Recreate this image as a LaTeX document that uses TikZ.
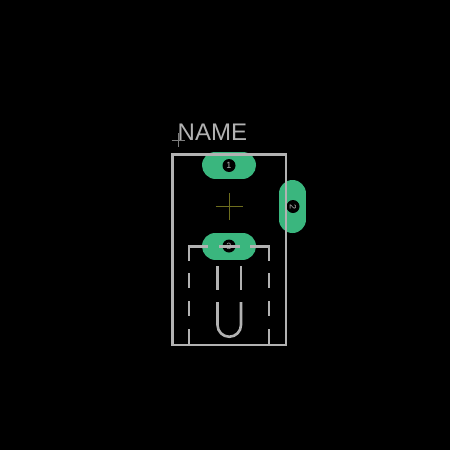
\documentclass[tikz,border=0pt]{standalone}
\usepackage{fontspec}
\setmainfont{Liberation Sans}
\definecolor{padg}{RGB}{58,182,126}
\definecolor{silk}{RGB}{178,178,178}
\definecolor{fab}{RGB}{110,110,30}
\tikzset{
  silkline/.style={draw=silk,line width=2.6pt,line cap=butt},
  padshape/.style={draw=padg,line cap=round,line width=27pt},
  holeshape/.style={circle,fill=black,minimum size=13pt,inner sep=0pt,text=silk,font=\fontsize{9}{9}\selectfont},
}
\begin{document}
\begin{tikzpicture}[x=1pt,y=-1pt]
\useasboundingbox (0,0) rectangle (450,450);
\fill[black] (0,0) rectangle (450,450);
% pads
\draw[padshape] (215.5,165) -- (242.5,165);
\draw[padshape] (292.5,193.5) -- (292.5,219.5);
\draw[padshape] (215.5,246) -- (242.5,246);
% holes
\node[holeshape] (h1) at (229,165.5) {1};
\node[holeshape,rotate=-90] (h2) at (293,206.5) {2};
\node[holeshape] (h3) at (229,246) {3};
% outline
\draw[silkline,line join=miter] (172.5,154.5) rectangle (286,345);
\draw[silkline] (189,345) -- (189,329);
\draw[silkline] (189,316) -- (189,301);
\draw[silkline] (189,288) -- (189,273);
\draw[silkline] (189,261) -- (189,246.5) -- (208,246.5);
\draw[silkline] (269,345) -- (269,329);
\draw[silkline] (269,316) -- (269,301);
\draw[silkline] (269,288) -- (269,273);
\draw[silkline] (269,261) -- (269,246.5) -- (250,246.5);
\draw[silkline] (219,246.5) -- (240,246.5);
\draw[silkline] (217.5,266) -- (217.5,290);
\draw[silkline] (241,266) -- (241,290);
\draw[silkline] (217.5,302) -- (217.5,325) arc[start angle=180,end angle=360,radius=11.75pt] -- (241,302);
% crosses
\draw[fab,line width=.8pt] (215.5,206.5) -- (243,206.5) (229,193) -- (229,220);
\draw[silk!70!black,line width=.8pt] (171.5,140) -- (185,140) (178,133) -- (178,147);
\node[text=silk,font=\fontsize{24}{24}\selectfont,inner sep=0pt,anchor=base west] (name) at (177.5,140) {NAME};
\end{tikzpicture}
\end{document}
